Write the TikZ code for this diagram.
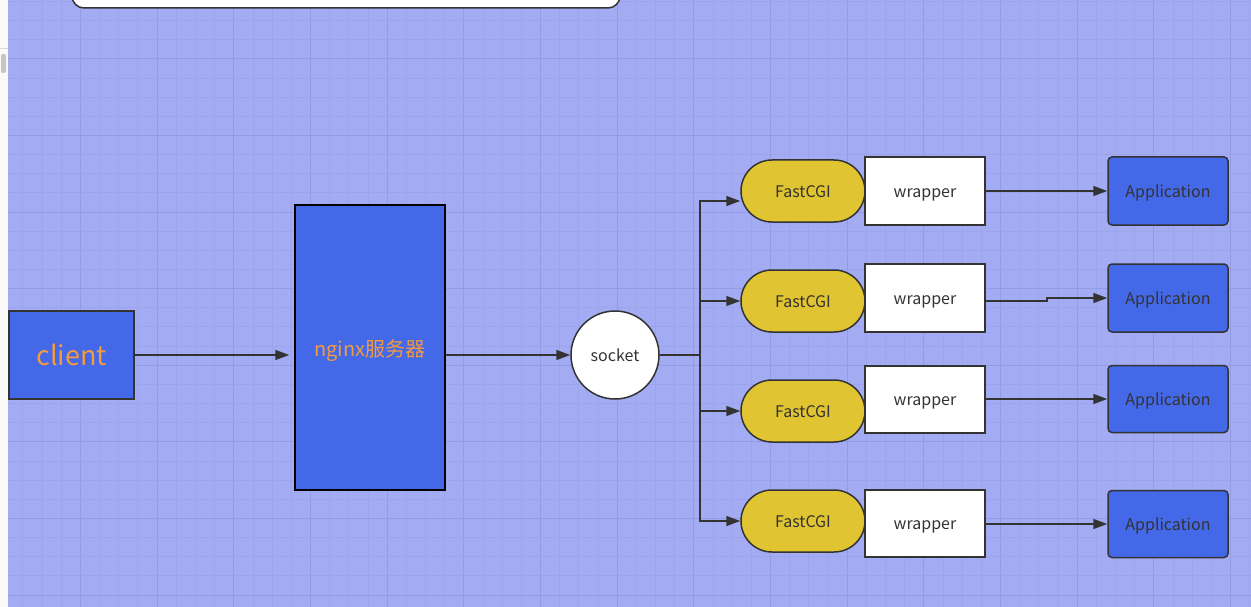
\documentclass[tikz,border=0pt]{standalone}
\usepackage{fontspec}
\setmainfont{Noto Sans CJK SC}
\usetikzlibrary{arrows.meta,shapes.misc,shapes.geometric}
\definecolor{bg}{HTML}{A3ABF2}
\definecolor{gridminor}{HTML}{9CA4EC}
\definecolor{gridmajor}{HTML}{939BE4}
\definecolor{royal}{HTML}{4469E8}
\definecolor{gold}{HTML}{E0C431}
\definecolor{orangetxt}{HTML}{F39A3C}
\definecolor{ink}{HTML}{333333}
\tikzset{
  box/.style={draw=ink, line width=1.5pt, inner sep=0pt, align=center, text height=16.6pt, text depth=4pt},
  bluebox/.style={box, fill=royal},
  fcgi/.style={draw=ink, line width=1.5pt, fill=gold, rounded rectangle, minimum width=124pt, minimum height=62pt, inner sep=0pt, text height=16.6pt, text depth=4pt, font=\fontsize{16}{16}\selectfont, text=ink},
  wrap/.style={box, fill=white, minimum width=120pt, font=\fontsize{16}{16}\selectfont, text=ink},
  app/.style={bluebox, rounded corners=4pt, minimum width=120pt, font=\fontsize{16}{16}\selectfont, text=ink},
  arr/.style={draw=ink, line width=1.5pt, -{Triangle[length=14pt,width=10pt]}}
}
\begin{document}
\begin{tikzpicture}[x=1pt,y=-1pt]
\useasboundingbox (0,0) rectangle (1251,607);
\fill[bg] (0,0) rectangle (1251,607);
% grid
\foreach \i in {0,...,65} {
  \pgfmathsetmacro{\gx}{round(3.3+19.17*\i)+0.5}
  \draw[gridminor, line width=1pt] (\gx,0) -- (\gx,607);
}
\foreach \i in {0,...,31} {
  \pgfmathsetmacro{\gy}{round(0.95+19.15*\i)+0.5}
  \draw[gridminor, line width=1pt] (0,\gy) -- (1251,\gy);
}
\foreach \i in {0,...,16} {
  \pgfmathsetmacro{\gx}{round(3.3+76.68*\i)+0.5}
  \draw[gridmajor, line width=1pt] (\gx,0) -- (\gx,607);
}
\foreach \i in {0,...,7} {
  \pgfmathsetmacro{\gy}{round(58.4+76.6*\i)+0.5}
  \draw[gridmajor, line width=1pt] (0,\gy) -- (1251,\gy);
}
% left strip
\fill[white!96!gray] (0,0) rectangle (8,607);
\draw[gray!30, line width=0.8pt] (0,48) -- (8,48);
\fill[gray!45, rounded corners=2pt] (1,54) rectangle (6,73);
% top box
\draw[ink, fill=white, line width=1.5pt, rounded corners=12pt] (72,-30) rectangle (620,8);

% nodes
\node[bluebox, minimum width=125pt, minimum height=88pt, text=orangetxt, text height=26pt, text depth=6pt, font=\fontsize{27}{27}\selectfont] (client) at (71.5,355) {client};
\node[bluebox, draw=black, minimum width=150pt, minimum height=285pt, text=orangetxt, text height=22.4pt, text depth=4pt, font=\fontsize{20}{20}\selectfont] (nginx) at (370,347.5) {nginx服务器};
\node[box, circle, fill=white, minimum size=88pt, text=ink, text height=17.4pt, text depth=4pt, font=\fontsize{16}{16}\selectfont] (socket) at (615,355) {socket};

\node[fcgi] (fc1) at (803,191) {FastCGI};
\node[fcgi] (fc2) at (803,301) {FastCGI};
\node[fcgi] (fc3) at (803,411) {FastCGI};
\node[fcgi] (fc4) at (803,521) {FastCGI};

\node[wrap, minimum height=68pt] (wr1) at (925,191) {wrapper};
\node[wrap, minimum height=68pt] (wr2) at (925,298) {wrapper};
\node[wrap, minimum height=67pt] (wr3) at (925,399.5) {wrapper};
\node[wrap, minimum height=67pt] (wr4) at (925,523.5) {wrapper};

\node[app, minimum height=68pt] (app1) at (1168,191) {Application};
\node[app, minimum height=68pt] (app2) at (1168,298) {Application};
\node[app, minimum height=67pt] (app3) at (1168,399) {Application};
\node[app, minimum height=67pt] (app4) at (1168,524) {Application};

% connectors
\draw[arr, shorten >=5pt] (client.east) -- (client.east -| nginx.west);
\draw[arr] (nginx.east |- socket.west) -- (socket.west);
\coordinate (split) at (700,355);
\draw[ink, line width=1.5pt] (socket.east) -- (split);
\draw[arr] (split) |- ([yshift=-10pt]fc1.west);
\draw[arr] (split) |- (fc2.west);
\draw[arr] (split) |- (fc3.west);
\draw[arr] (split) |- (fc4.west);

\draw[arr] (wr1.east) -- (app1.west);
\coordinate (bend2) at (1047,298);
\draw[arr] ([yshift=-3pt]wr2.east) -| (bend2) -- (app2.west);
\draw[arr] (wr3.east |- app3.west) -- (app3.west);
\draw[arr] (wr4.east |- app4.west) -- (app4.west);
\end{tikzpicture}
\end{document}
